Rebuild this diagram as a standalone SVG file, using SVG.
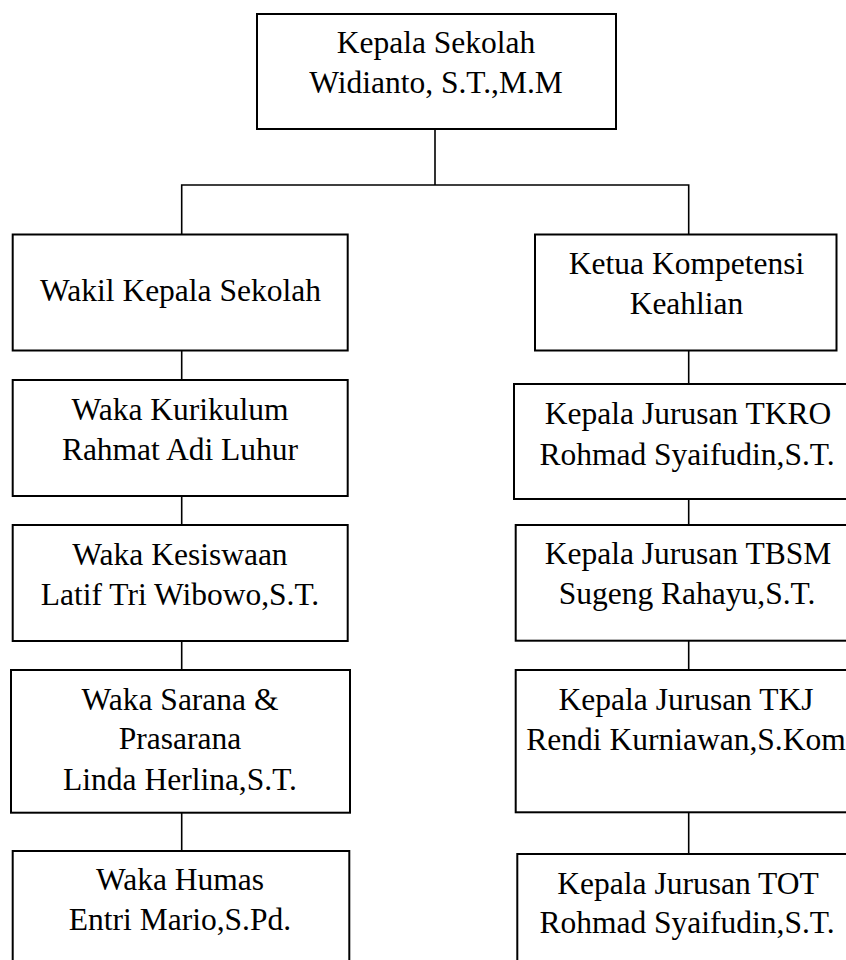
<svg xmlns="http://www.w3.org/2000/svg" width="846" height="960" viewBox="0 0 846 960">
<style>
.box{fill:#fff;stroke:#000;stroke-width:2}
.ln{fill:none;stroke:#000;stroke-width:1.6}
text{font-family:"Liberation Serif","Times New Roman",serif;font-size:31.5px;fill:#000;text-anchor:middle}
</style>
<rect x="0" y="0" width="846" height="960" fill="#fff"/>
<g id="connectors">
<path class="ln" d="M435 129V185M181.7 234.5V185H688.7V234.5"/>
<path class="ln" d="M181.7 350.7V380M181.7 496V525M181.7 641V670M181.7 812.7V851"/>
<path class="ln" d="M688.7 350.5V384M688.7 499V525M688.7 640.7V670M688.7 812.3V854"/>
</g>
<g id="kepala-sekolah">
<rect class="box" x="257" y="14" width="359" height="115"/>
<text x="436" y="53">Kepala Sekolah</text>
<text x="436" y="93">Widianto, S.T.,M.M</text>
</g>
<g id="wakil">
<rect class="box" x="12.7" y="234.5" width="335" height="116"/>
<text x="180.5" y="301">Wakil Kepala Sekolah</text>
</g>
<g id="ketua">
<rect class="box" x="535" y="234.5" width="301.5" height="116"/>
<text x="686.5" y="274">Ketua Kompetensi</text>
<text x="686.5" y="314">Keahlian</text>
</g>
<g id="kurikulum">
<rect class="box" x="12.7" y="380" width="335" height="116"/>
<text x="180" y="420">Waka Kurikulum</text>
<text x="180" y="460">Rahmat Adi Luhur</text>
</g>
<g id="tkro">
<rect class="box" x="514" y="384" width="360" height="115"/>
<text x="688" y="424">Kepala Jurusan TKRO</text>
<text x="687" y="464.5">Rohmad Syaifudin,S.T.</text>
</g>
<g id="kesiswaan">
<rect class="box" x="12.7" y="525" width="335" height="116"/>
<text x="180" y="564.5">Waka Kesiswaan</text>
<text x="180" y="605">Latif Tri Wibowo,S.T.</text>
</g>
<g id="tbsm">
<rect class="box" x="515.7" y="525" width="360" height="115.7"/>
<text x="688" y="563.5">Kepala Jurusan TBSM</text>
<text x="687" y="603.5">Sugeng Rahayu,S.T.</text>
</g>
<g id="sarana">
<rect class="box" x="11" y="670" width="339" height="142.7"/>
<text x="180" y="710">Waka Sarana &amp;</text>
<text x="180" y="749">Prasarana</text>
<text x="180" y="790">Linda Herlina,S.T.</text>
</g>
<g id="tkj">
<rect class="box" x="515.7" y="670" width="360" height="142.3"/>
<text x="686" y="710">Kepala Jurusan TKJ</text>
<text x="686" y="750">Rendi Kurniawan,S.Kom</text>
</g>
<g id="humas">
<rect class="box" x="12.7" y="851" width="336.6" height="130"/>
<text x="180" y="890">Waka Humas</text>
<text x="180" y="930">Entri Mario,S.Pd.</text>
</g>
<g id="tot">
<rect class="box" x="517.3" y="854" width="360" height="130"/>
<text x="688" y="894">Kepala Jurusan TOT</text>
<text x="687" y="933">Rohmad Syaifudin,S.T.</text>
</g>
</svg>
